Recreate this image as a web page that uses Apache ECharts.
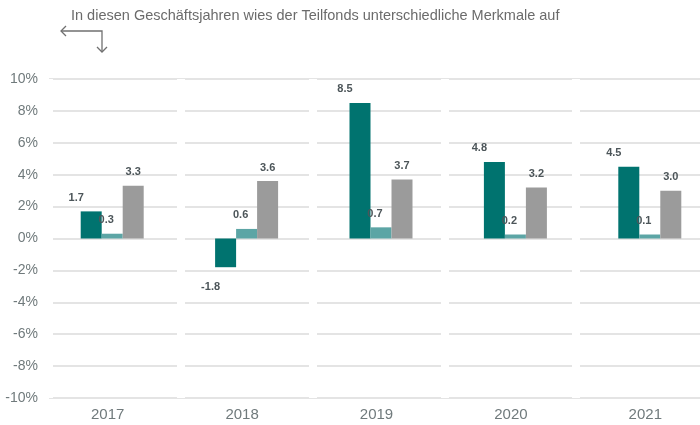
<!DOCTYPE html>
<html>
<head>
<meta charset="utf-8">
<script src="https://cdn.jsdelivr.net/npm/echarts@6/dist/echarts.min.js"></script>
<style>
  html, body { margin: 0; padding: 0; background: #fff; }
  #chart { width: 700px; height: 425px; }
</style>
</head>
<body>
<div id="chart"></div>
<script>
// Geschäftsjahre
var years = ['2017', '2018', '2019', '2020', '2021'];
// drei Reihen, Werte in %
var serieA = [1.7, -1.8, 8.5, 4.8, 4.5];
var serieB = [0.3, 0.6, 0.7, 0.2, 0.1];
var serieC = [3.3, 3.6, 3.7, 3.2, 3.0];
var yTicks = { min: -10, max: 10, step: 2 };
var noteText = 'In diesen Geschäftsjahren wies der Teilfonds unterschiedliche Merkmale auf';

var colors = ['#00736f', '#5ca5a5', '#9b9b9b'];
var labelColor = '#4c5559';
var axisColor = '#707a7c';

function makeData(values) {
  // negative Balken: Beschriftung etwas weiter weg
  return values.map(function (v) {
    if (v < 0) return { value: v, label: { distance: 14 } };
    return v;
  });
}

function barSeries(values, color, dx, minH) {
  return {
    type: 'bar',
    xAxisIndex: 0,
    yAxisIndex: 0,
    data: makeData(values),
    barWidth: 21,
    barGap: '0%',
    barMinHeight: minH || 0,
    itemStyle: { color: color },
    label: {
      show: true,
      position: 'outside',
      distance: 8,
      offset: [dx, 0],
      color: labelColor,
      fontSize: 11,
      fontWeight: 'bold',
      fontFamily: 'Liberation Sans',
      formatter: function (p) { return p.value.toFixed(1); }
    }
  };
}

var chart = echarts.init(document.getElementById('chart'));
var option = {
  animation: false,
  grid: [
    { left: 45, width: 672, top: 79, bottom: 27, outerBoundsMode: 'none', containLabel: false },   // Balken
    { left: 49, width: 659, top: 79, bottom: 27, outerBoundsMode: 'none', containLabel: false }    // Gitterlinien
  ],
  xAxis: [
    {
      gridIndex: 0,
      type: 'category',
      data: years,
      axisLine: { show: false },
      axisTick: { show: false },
      splitLine: { show: false },
      axisLabel: {
        color: axisColor,
        fontSize: 15,
        fontFamily: 'Liberation Sans',
        margin: 9,
        padding: [0, 9, 0, 0]
      }
    },
    {
      gridIndex: 1,
      type: 'category',
      data: years,
      z: 1,
      axisLine: { show: false },
      axisTick: { show: false },
      axisLabel: { show: false },
      splitLine: { show: true, interval: 0, lineStyle: { color: '#ffffff', width: 8 } }
    }
  ],
  yAxis: [
    {
      gridIndex: 0,
      type: 'value',
      min: yTicks.min,
      max: yTicks.max,
      interval: yTicks.step,
      show: false
    },
    {
      gridIndex: 1,
      type: 'value',
      min: yTicks.min,
      max: yTicks.max,
      interval: yTicks.step,
      z: 0,
      axisLine: { show: false },
      axisTick: { show: false },
      axisLabel: {
        formatter: '{value}%',
        color: axisColor,
        fontSize: 14,
        fontFamily: 'Liberation Sans',
        margin: 11
      },
      splitLine: { lineStyle: { color: '#e4e4e4', width: 2 } }
    }
  ],
  series: [
    barSeries(serieA, colors[0], -15),
    barSeries(serieB, colors[1], -6, 4),
    barSeries(serieC, colors[2], 0)
  ],
  graphic: [
    {
      type: 'text',
      left: 71,
      top: 8,
      style: {
        text: noteText,
        fill: '#6b6b6b',
        fontSize: 14.5,
        fontFamily: 'Liberation Sans'
      }
    },
    {
      type: 'polyline',
      shape: { points: [[61, 31], [102, 31], [102, 52]] },
      style: { stroke: '#707070', lineWidth: 1.3, fill: null }
    },
    {
      type: 'polyline',
      shape: { points: [[66, 26], [61, 31], [66, 36]] },
      style: { stroke: '#707070', lineWidth: 1.3, fill: null }
    },
    {
      type: 'polyline',
      shape: { points: [[97, 47], [102, 52], [107, 47]] },
      style: { stroke: '#707070', lineWidth: 1.3, fill: null }
    }
  ]
};
chart.setOption(option);
</script>
</body>
</html>
